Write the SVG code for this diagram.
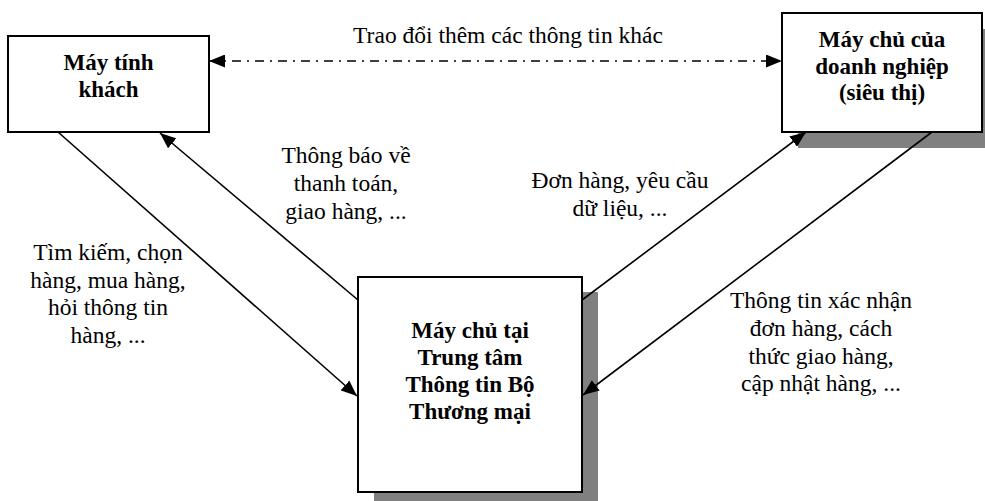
<svg xmlns="http://www.w3.org/2000/svg" width="985" height="501" viewBox="0 0 985 501">
<style>
text{font-family:'Liberation Serif','Times New Roman',Tinos,'DejaVu Serif',serif;font-size:23.5px;fill:#000}
.b{font-weight:bold;font-size:23px}
.box{fill:#fff;stroke:#000;stroke-width:2}
.sh{fill:#808080}
.ln{stroke:#000;stroke-width:1.6;fill:none}
.dash{stroke-dasharray:9 6 2 6}
</style>
<defs>
<marker id="ah" markerUnits="userSpaceOnUse" markerWidth="17" markerHeight="13" refX="16" refY="6.5" orient="auto-start-reverse">
<path d="M0,0 L16,6.5 L0,13 z" fill="#000"/>
</marker>
</defs>
<rect width="985" height="501" fill="#fff"/>
<g id="may-tinh-khach">
<rect class="box" x="8" y="36" width="201" height="96"/>
<text class="b" x="108.5" y="70" text-anchor="middle">Máy tính</text>
<text class="b" x="108.5" y="97" text-anchor="middle">khách</text>
</g>
<g id="may-chu-doanh-nghiep">
<rect class="sh" x="798" y="29" width="200" height="119"/>
<rect class="box" x="782" y="13" width="200" height="119"/>
<text class="b" x="882" y="47" text-anchor="middle">Máy chủ của</text>
<text class="b" x="882" y="74" text-anchor="middle">doanh nghiệp</text>
<text class="b" x="882" y="100" text-anchor="middle">(siêu thị)</text>
</g>
<g id="may-chu-trung-tam">
<rect class="sh" x="374" y="292" width="224" height="215"/>
<rect class="box" x="358" y="277" width="224" height="215"/>
<text class="b" x="470" y="338" text-anchor="middle">Máy chủ tại</text>
<text class="b" x="470" y="365" text-anchor="middle">Trung tâm</text>
<text class="b" x="470" y="392" text-anchor="middle">Thông tin Bộ</text>
<text class="b" x="470" y="419" text-anchor="middle">Thương mại</text>
</g>
<g id="connectors">
<line class="ln dash" x1="209" y1="61" x2="782" y2="61" marker-start="url(#ah)" marker-end="url(#ah)"/>
<line class="ln" x1="58" y1="132" x2="357" y2="396" marker-end="url(#ah)"/>
<line class="ln" x1="358" y1="300" x2="160" y2="133" marker-end="url(#ah)"/>
<line class="ln" x1="582" y1="300" x2="806" y2="132" marker-end="url(#ah)"/>
<line class="ln" x1="932" y1="132" x2="583" y2="395" marker-end="url(#ah)"/>
</g>
<g id="labels">
<text x="508" y="43" text-anchor="middle">Trao đổi thêm các thông tin khác</text>
<text x="346" y="163" text-anchor="middle">Thông báo về</text>
<text x="346" y="191" text-anchor="middle">thanh toán,</text>
<text x="346" y="219" text-anchor="middle">giao hàng, ...</text>
<text x="108" y="260" text-anchor="middle">Tìm kiếm, chọn</text>
<text x="108" y="287.5" text-anchor="middle">hàng, mua hàng,</text>
<text x="108" y="315" text-anchor="middle">hỏi thông tin</text>
<text x="108" y="342.5" text-anchor="middle">hàng, ...</text>
<text x="620" y="188" text-anchor="middle">Đơn hàng, yêu cầu</text>
<text x="620" y="216" text-anchor="middle">dữ liệu, ...</text>
<text x="821" y="308" text-anchor="middle">Thông tin xác nhận</text>
<text x="821" y="336" text-anchor="middle">đơn hàng, cách</text>
<text x="821" y="363.5" text-anchor="middle">thức giao hàng,</text>
<text x="821" y="391" text-anchor="middle">cập nhật hàng, ...</text>
</g>
</svg>
